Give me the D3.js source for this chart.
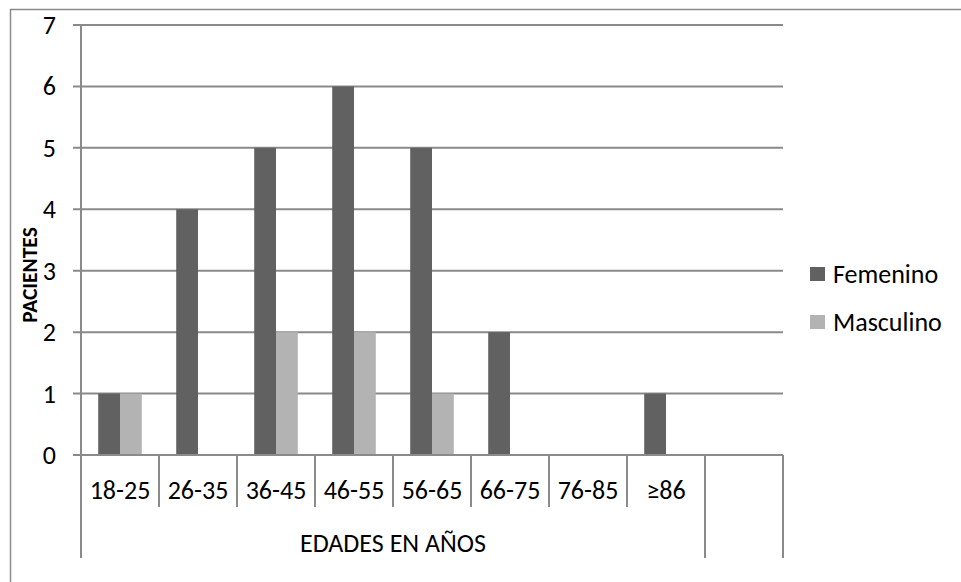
<!DOCTYPE html>
<html>
<head>
<meta charset="utf-8">
<script src="https://cdn.jsdelivr.net/npm/d3@7"></script>
<style>
  html, body { margin: 0; padding: 0; background: #fff; }
  svg { display: block; }
  text { font-family: Carlito, Calibri, Lato, "Open Sans", sans-serif; fill: #000; }
</style>
</head>
<body>
<svg id="chart" width="961" height="582"></svg>
<script>
// Age groups (the last slot of the axis is an empty category)
const categories = ["18-25", "26-35", "36-45", "46-55", "56-65", "66-75", "76-85", "≥86", ""];
const groupLabel = "EDADES EN AÑOS";
const groupSpan = 8; // number of categories under the group label
const seriesNames = ["Femenino", "Masculino"];
const femenino = [1, 4, 5, 6, 5, 2, 0, 1, null];
const masculino = [1, 0, 2, 2, 1, 0, 0, 0, null];
const yTicks = [0, 1, 2, 3, 4, 5, 6, 7];
const yTitle = "PACIENTES";
const colors = ["#616161", "#b3b3b3"];

(function draw() {
  const svg = d3.select("#chart");
  const lineColor = "#8a8a8a";
  const fontSize = 26;

  const plotLeft = 81, plotRight = 783, plotTop = 25, plotBottom = 455;
  const labelRow = 507, groupRow = 558;

  // chart area border
  svg.append("rect")
    .attr("x", 10.5).attr("y", 9.5).attr("width", 1000).attr("height", 1000)
    .attr("fill", "none").attr("stroke", lineColor).attr("stroke-width", 1.5);

  const x = d3.scaleBand().domain(categories.map((c, i) => i)).range([plotLeft, plotRight]).paddingInner(0).paddingOuter(0);
  const xs = d3.scaleBand().domain(seriesNames).range([0, x.bandwidth()]).paddingInner(0).paddingOuter(0.79);
  const y = d3.scaleLinear().domain([0, 7]).range([plotBottom, plotTop]);

  // horizontal gridlines with ticks
  svg.append("g").selectAll("line").data(yTicks).join("line")
    .attr("x1", plotLeft - 8).attr("x2", plotRight)
    .attr("y1", d => y(d)).attr("y2", d => y(d))
    .attr("stroke", lineColor).attr("stroke-width", 2);

  // y tick labels
  svg.append("g").selectAll("text").data(yTicks).join("text")
    .attr("x", 56).attr("y", d => y(d))
    .attr("text-anchor", "end").attr("dominant-baseline", "central")
    .attr("font-size", fontSize).text(d => d);

  // y axis title
  svg.append("text")
    .attr("transform", "translate(30,275) rotate(-90)")
    .attr("text-anchor", "middle").attr("dominant-baseline", "central")
    .attr("font-size", 21.5).attr("font-weight", "bold").text(yTitle);

  // bars
  const series = [femenino, masculino];
  series.forEach((vals, si) => {
    svg.append("g").selectAll("rect")
      .data(vals.map((v, i) => ({ v, i })).filter(d => d.v))
      .join("rect")
      .attr("x", d => x(d.i) + xs(seriesNames[si]))
      .attr("width", xs.bandwidth())
      .attr("y", d => y(d.v))
      .attr("height", d => y(0) - y(d.v))
      .attr("fill", colors[si]);
  });

  // baseline over bars
  svg.append("line")
    .attr("x1", plotLeft - 8).attr("x2", plotRight).attr("y1", y(0)).attr("y2", y(0))
    .attr("stroke", lineColor).attr("stroke-width", 2);

  // y axis line
  svg.append("line")
    .attr("x1", plotLeft).attr("x2", plotLeft).attr("y1", plotTop).attr("y2", groupRow)
    .attr("stroke", lineColor).attr("stroke-width", 2);

  // category separators
  const bounds = d3.range(1, categories.length + 1);
  svg.append("g").selectAll("line").data(bounds).join("line")
    .attr("x1", i => x(i - 1) + x.bandwidth()).attr("x2", i => x(i - 1) + x.bandwidth())
    .attr("y1", plotBottom)
    .attr("y2", i => (i >= groupSpan ? groupRow : labelRow))
    .attr("stroke", lineColor).attr("stroke-width", 2);

  // category labels
  svg.append("g").selectAll("text").data(categories).join("text")
    .attr("x", (c, i) => x(i) + x.bandwidth() / 2).attr("y", 490)
    .attr("text-anchor", "middle").attr("dominant-baseline", "central")
    .attr("font-size", fontSize).text(c => c);

  // group label
  svg.append("text")
    .attr("x", (plotLeft + x(groupSpan - 1) + x.bandwidth()) / 2).attr("y", 543)
    .attr("text-anchor", "middle").attr("dominant-baseline", "central")
    .attr("font-size", fontSize).text(groupLabel);

  // legend
  const legend = svg.append("g").selectAll("g").data(seriesNames).join("g")
    .attr("transform", (d, i) => `translate(810,${267 + i * 48})`);
  legend.append("rect").attr("width", 15).attr("height", 14).attr("fill", (d, i) => colors[i]);
  legend.append("text").attr("x", 23).attr("y", 7)
    .attr("dominant-baseline", "central").attr("font-size", fontSize).text(d => d);
})();
</script>
</body>
</html>
